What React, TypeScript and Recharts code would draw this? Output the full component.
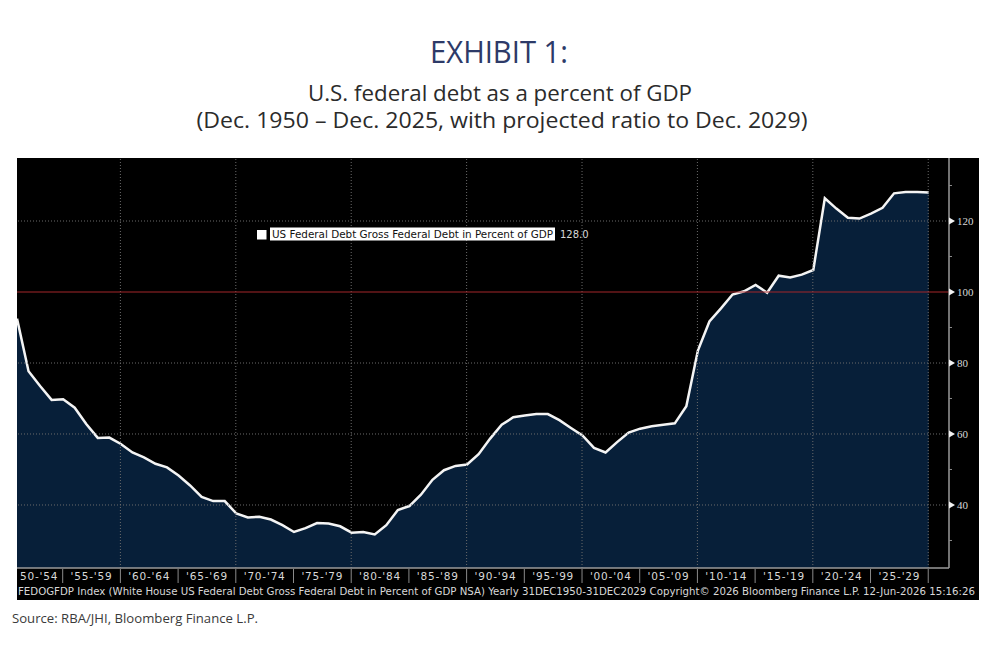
import React from 'react'
import { ComposedChart, Area, XAxis, YAxis, ReferenceLine } from 'recharts'

// Gross federal debt, % of GDP, December of each year (1950-2029, last 4 projected)
const YEARS = Array.from({ length: 80 }, (_, i) => 1950 + i)
const DEBT_PCT = [
  92.5, 77.7, 73.5, 69.6, 69.8, 67.4, 62.8, 58.9, 59.0, 57.2,
  54.8, 53.4, 51.6, 50.6, 48.3, 45.5, 42.3, 41.1, 41.1, 37.6,
  36.5, 36.7, 35.9, 34.3, 32.4, 33.5, 34.9, 34.8, 34.0, 32.2,
  32.4, 31.7, 34.3, 38.6, 39.7, 42.9, 47.1, 49.8, 51.0, 51.4,
  54.3, 58.7, 62.6, 64.7, 65.2, 65.6, 65.6, 63.9, 61.7, 59.6,
  56.1, 54.8, 57.7, 60.4, 61.5, 62.2, 62.6, 63.0, 67.8, 83.5,
  91.7, 95.4, 99.3, 100.2, 102.0, 99.8, 104.6, 104.1, 104.9, 106.2,
  126.4, 123.5, 120.9, 120.7, 122.1, 123.7, 127.8, 128.2, 128.2, 128.0,
]

// five-year blocks on the time axis
const BLOCK_STARTS = [1950, 1955, 1960, 1965, 1970, 1975, 1980, 1985, 1990, 1995, 2000, 2005, 2010, 2015, 2020, 2025]
const BLOCK_LABELS = ["50-'54", "'55-'59", "'60-'64", "'65-'69", "'70-'74", "'75-'79", "'80-'84", "'85-'89",
  "'90-'94", "'95-'99", "'00-'04", "'05-'09", "'10-'14", "'15-'19", "'20-'24", "'25-'29"]
const DECADE_LINES = [1960, 1970, 1980, 1990, 2000, 2010, 2020, 2030]

const Y_MAJOR = [40, 60, 80, 100, 120]
const Y_MINOR = [30, 50, 70, 90, 110, 130]
const Y_GRID = [40, 60, 80, 120]

const SERIES_NAME = 'US Federal Debt Gross Federal Debt in Percent of GDP'
const FOOTNOTE =
  'FEDOGFDP Index (White House US Federal Debt Gross Federal Debt in Percent of GDP NSA) Yearly 31DEC1950-31DEC2029  Copyright\u00a9 2026 Bloomberg Finance L.P.  12-Jun-2026 15:16:26'

// block boundaries sit on the previous December point
const boundary = (y: number) => y - 1.04
const centerTicks = BLOCK_STARTS.map((s) => boundary(s) + 2.5)
const sepTicks = BLOCK_STARTS.map((s) => boundary(s + 5))

const data = YEARS.map((year, i) => ({ year, debt: DEBT_PCT[i] }))
const lastValue = DEBT_PCT[DEBT_PCT.length - 1]

const FILL = '#071f39'
const GRID = '#6b6b6b'
const AXIS_TEXT = '#d8d8d8'

function XTick(props: any) {
  const { x, y, payload } = props
  const v = payload.value
  const ci = centerTicks.findIndex((c) => Math.abs(c - v) < 1e-6)
  if (ci >= 0) {
    // the first block is cut by the left edge, so its label starts at the edge
    const first = ci === 0
    return (
      <text x={first ? 3 : x} y={y + 12} textAnchor={first ? 'start' : 'middle'} fill={AXIS_TEXT}
        fontSize={10.5} letterSpacing={0.8} fontFamily="'DejaVu Sans', sans-serif">
        {BLOCK_LABELS[ci]}
      </text>
    )
  }
  return <line x1={x} x2={x} y1={y + 1} y2={y + 15} stroke="#8a8a8a" strokeWidth={1} />
}

function YTick(props: any) {
  const { x, y, payload } = props
  const v = payload.value
  if (Y_MAJOR.includes(v)) {
    return (
      <g>
        <polygon points={`${x},${y - 3.5} ${x + 6},${y} ${x},${y + 3.5}`} fill="#f2f2f2" />
        <text x={x + 8} y={y + 4} fill={AXIS_TEXT} fontSize={11} fontFamily="'Liberation Serif', 'DejaVu Serif', serif">
          {v}
        </text>
      </g>
    )
  }
  return <line x1={x} x2={x + 3} y1={y} y2={y} stroke="#8a8a8a" strokeWidth={1} />
}

export default function App() {
  return (
    <div style={{ position: 'absolute', left: 0, top: 0, width: 1005, height: 647, background: '#fff', overflow: 'hidden' }}>
      <svg width={1005} height={647} style={{ position: 'absolute', left: 0, top: 0 }}>
        <text x={499} y={63} textAnchor="middle" fill="#2d3a68" fontSize={31}
          fontFamily="'Liberation Sans Narrow', 'Open Sans', sans-serif" textLength={138} lengthAdjust="spacingAndGlyphs">
          EXHIBIT 1:
        </text>
        <text x={500} y={101} textAnchor="middle" fill="#2b2b2b" fontSize={22}
          fontFamily="'Liberation Sans Narrow', 'Open Sans', sans-serif" textLength={384} lengthAdjust="spacingAndGlyphs">
          U.S. federal debt as a percent of GDP
        </text>
        <text x={502} y={128} textAnchor="middle" fill="#2b2b2b" fontSize={22}
          fontFamily="'Liberation Sans Narrow', 'Open Sans', sans-serif" textLength={611} lengthAdjust="spacingAndGlyphs">
          (Dec. 1950 – Dec. 2025, with projected ratio to Dec. 2029)
        </text>
        <text x={12} y={623} fill="#3a3a3a" fontSize={13}
          fontFamily="'Liberation Sans Narrow', 'Open Sans', sans-serif" textLength={246} lengthAdjust="spacingAndGlyphs">
          Source: RBA/JHI, Bloomberg Finance L.P.
        </text>
      </svg>

      <div style={{ position: 'absolute', left: 17, top: 158, width: 962, height: 442, background: '#000' }}>
        <ComposedChart width={962} height={442} data={data} margin={{ top: 0, right: 0, bottom: 0, left: 0 }}>
          <XAxis
            dataKey="year"
            type="number"
            domain={[1950, 2030.76]}
            allowDataOverflow
            ticks={[...centerTicks, ...sepTicks]}
            interval={0}
            height={32}
            tickSize={0}
            tickMargin={0}
            tick={<XTick />}
            axisLine={{ stroke: '#9a9a9a', strokeWidth: 1.5 }}
            tickLine={false}
          />
          <YAxis
            orientation="right"
            type="number"
            domain={[22.25, 137.75]}
            allowDataOverflow
            ticks={[...Y_MINOR, ...Y_MAJOR].sort((a, b) => a - b)}
            interval={0}
            width={30}
            tickSize={0}
            tickMargin={0}
            tick={<YTick />}
            axisLine={{ stroke: '#9a9a9a', strokeWidth: 1.5 }}
            tickLine={false}
          />
          <Area
            type="linear"
            dataKey="debt"
            stroke="#f4f4f4"
            strokeWidth={2.5}
            fill={FILL}
            fillOpacity={1}
            isAnimationActive={false}
            dot={false}
            activeDot={false}
          />
          {Y_GRID.map((v) => (
            <ReferenceLine key={`h${v}`} y={v} stroke={GRID} strokeDasharray="1 2" strokeWidth={1} />
          ))}
          {DECADE_LINES.map((d) => (
            <ReferenceLine key={`v${d}`} x={boundary(d)} stroke={GRID} strokeDasharray="1 2" strokeWidth={1} />
          ))}
          <ReferenceLine y={100} stroke="#a3272b" strokeWidth={1.2} />
        </ComposedChart>
        <svg width={962} height={442} style={{ position: 'absolute', left: 0, top: 0, pointerEvents: 'none' }}>
          <text x={1} y={437} fill={AXIS_TEXT} fontSize={10} fontFamily="'DejaVu Sans', sans-serif"
            textLength={957} lengthAdjust="spacingAndGlyphs">
            {FOOTNOTE}
          </text>
          <rect x={240} y={72} width={9.5} height={9.5} fill="#fff" />
          <rect x={253} y={69.5} width={285} height={13} fill="#fff" />
          <text x={255} y={80} fill="#111" fontSize={10} fontFamily="'DejaVu Sans', sans-serif"
            textLength={281} lengthAdjust="spacingAndGlyphs">
            {SERIES_NAME}
          </text>
          <text x={543} y={80} fill={AXIS_TEXT} fontSize={10} fontFamily="'DejaVu Sans', sans-serif">
            {lastValue.toFixed(1)}
          </text>
        </svg>
      </div>
    </div>
  )
}
